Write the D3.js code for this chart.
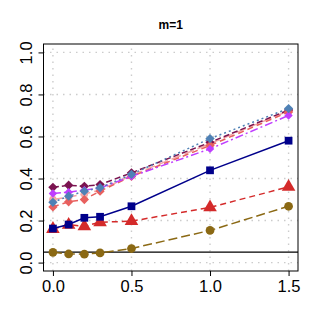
<!DOCTYPE html>
<html>
<head>
    <title>m=1</title>
    <style>
        body { margin: 0; background: #fff; }
        text { font-family: "Liberation Sans", Arial, sans-serif; }
    </style>
    <script type="text/javascript" src="https://d3js.org/d3.v7.min.js"></script>
</head>
<body>
    <div id="chart"></div>
    <script>
        // x positions shared by every series
        var xVals = [0, 0.1, 0.2, 0.3, 0.5, 1.0, 1.5];
        var xTicks = [0, 0.5, 1.0, 1.5];
        var yTicks = [0, 0.2, 0.4, 0.6, 0.8, 1.0];
        var refLine = 0.05;

        // series values
        var olive   = [0.049, 0.041, 0.040, 0.046, 0.067, 0.153, 0.268];
        var red     = [0.160, 0.180, 0.173, 0.192, 0.197, 0.263, 0.360];
        var navy    = [0.162, 0.181, 0.213, 0.218, 0.268, 0.439, 0.580];
        var pink    = [0.300, 0.312, 0.326, 0.345, 0.415, 0.566, 0.722];
        var purple  = [0.358, 0.368, 0.363, 0.371, 0.427, 0.572, 0.726];
        var salmon  = [0.265, 0.289, 0.300, 0.340, 0.410, 0.557, 0.717];
        var magenta = [0.329, 0.335, 0.345, 0.355, 0.410, 0.541, 0.700];
        var steel   = [0.287, 0.316, 0.340, 0.356, 0.420, 0.590, 0.733];

        var series = [
            {vals: olive,   color: "#8B6914", dash: "9,4",     shape: d3.symbolCircle,   size: 60},
            {vals: red,     color: "#D42A2A", dash: "6,4",     shape: d3.symbolTriangle, size: 80},
            {vals: navy,    color: "#00008B", dash: null,      shape: d3.symbolSquare,   size: 60},
            {vals: pink,    color: "#F4A6A6", dash: "10,4",    shape: d3.symbolCircle,   size: 45},
            {vals: purple,  color: "#7B1450", dash: "6,3",     shape: d3.symbolDiamond2, size: 55},
            {vals: salmon,  color: "#E8605E", dash: "6,4",     shape: d3.symbolDiamond2, size: 55},
            {vals: magenta, color: "#BF3EFF", dash: "8,3,2,3", shape: d3.symbolDiamond2, size: 45},
            {vals: steel,   color: "#4F81B5", dash: "2,3",     shape: d3.symbolDiamond2, size: 55}
        ];

        var width = 321;
        var height = 327;

        var x = d3.scaleLinear().domain([-0.06, 1.56]).range([43.5, 298]);
        var y = d3.scaleLinear().domain([-0.04, 1.04]).range([271, 44]);

        var svg = d3.select("#chart")
            .append("svg")
            .attr("width", width)
            .attr("height", height);

        // dotted grid
        svg.append("g").selectAll("line")
            .data(xTicks).enter().append("line")
            .attr("x1", function (d) { return x(d); })
            .attr("x2", function (d) { return x(d); })
            .attr("y1", y.range()[0]).attr("y2", y.range()[1])
            .attr("stroke", "#cccccc").attr("stroke-width", 1.4)
            .attr("stroke-dasharray", "1.5,5");
        svg.append("g").selectAll("line")
            .data(yTicks).enter().append("line")
            .attr("y1", function (d) { return y(d); })
            .attr("y2", function (d) { return y(d); })
            .attr("x1", x.range()[0]).attr("x2", x.range()[1])
            .attr("stroke", "#cccccc").attr("stroke-width", 1.4)
            .attr("stroke-dasharray", "1.5,5");

        // reference line
        svg.append("line")
            .attr("x1", x.range()[0]).attr("x2", x.range()[1])
            .attr("y1", y(refLine)).attr("y2", y(refLine))
            .attr("stroke", "#000").attr("stroke-width", 1.1);

        var line = d3.line()
            .x(function (d, i) { return x(xVals[i]); })
            .y(function (d) { return y(d); });

        series.forEach(function (s) {
            svg.append("path")
                .datum(s.vals)
                .attr("d", line)
                .attr("fill", "none")
                .attr("stroke", s.color)
                .attr("stroke-width", 1.5)
                .attr("stroke-dasharray", s.dash);
            svg.append("g").selectAll("path")
                .data(s.vals).enter().append("path")
                .attr("d", d3.symbol().type(s.shape).size(s.size))
                .attr("transform", function (d, i) {
                    return "translate(" + x(xVals[i]) + "," + y(d) + ")";
                })
                .attr("fill", s.color);
        });

        // box
        svg.append("rect")
            .attr("x", x.range()[0]).attr("y", y.range()[1])
            .attr("width", x.range()[1] - x.range()[0])
            .attr("height", y.range()[0] - y.range()[1])
            .attr("fill", "none").attr("stroke", "#000").attr("stroke-width", 1);

        // axes
        var xAxis = d3.axisBottom(x).tickValues(xTicks).tickSize(5).tickPadding(4)
            .tickFormat(d3.format(".1f"));
        var gX = svg.append("g")
            .attr("transform", "translate(0," + y.range()[0] + ")")
            .call(xAxis);
        gX.select(".domain").remove();
        gX.selectAll("text").attr("font-size", 16.5).attr("fill", "#000")
            .attr("font-family", "Liberation Sans, Arial, sans-serif");

        var yAxis = d3.axisLeft(y).tickValues(yTicks).tickSize(5).tickPadding(6)
            .tickFormat(d3.format(".1f"));
        var gY = svg.append("g")
            .attr("transform", "translate(" + x.range()[0] + ",0)")
            .call(yAxis);
        gY.select(".domain").remove();
        gY.selectAll("text")
            .attr("font-size", 16.5).attr("fill", "#000")
            .attr("font-family", "Liberation Sans, Arial, sans-serif")
            .attr("x", null).attr("dy", null)
            .attr("text-anchor", "middle")
            .attr("transform", "translate(-11.5,0) rotate(-90)");

        svg.append("text")
            .attr("x", (x.range()[0] + x.range()[1]) / 2)
            .attr("y", 29)
            .attr("text-anchor", "middle")
            .attr("font-size", 12)
            .attr("font-weight", "bold")
            .text("m=1");
    </script>
</body>
</html>
